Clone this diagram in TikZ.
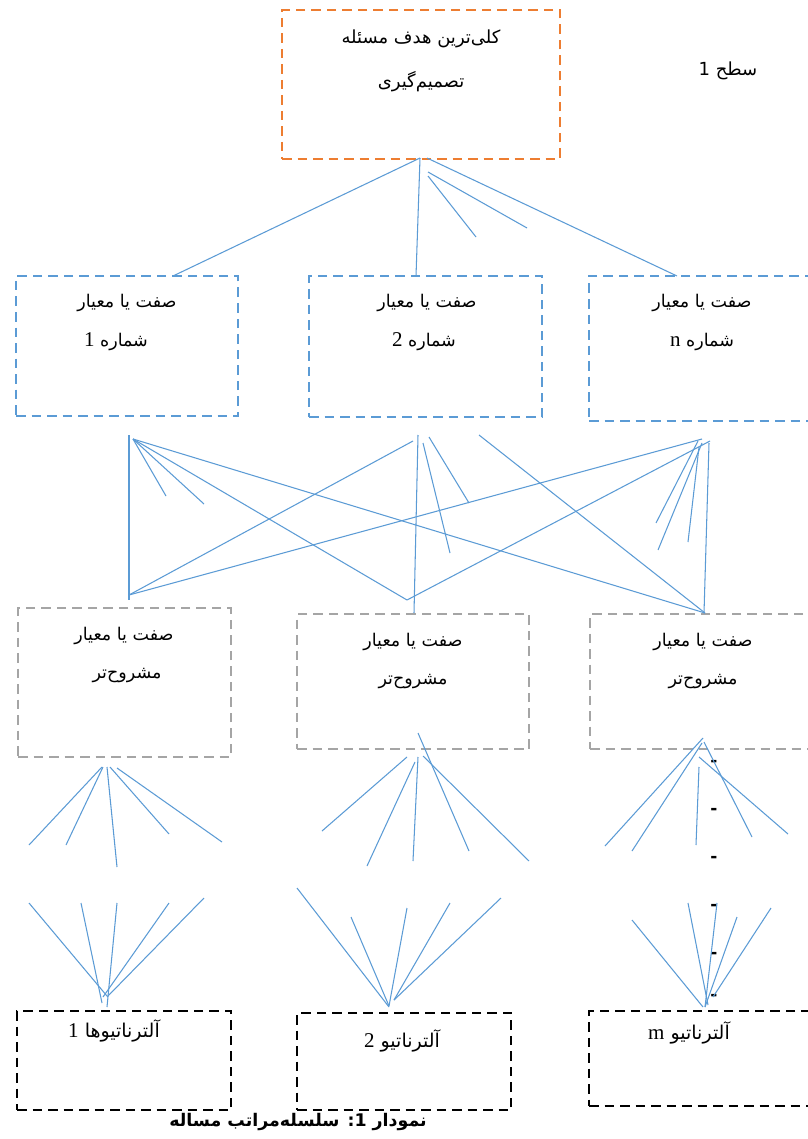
\documentclass[tikz,border=0pt]{standalone}
\usepackage{fontspec}
\newfontfamily\fa[Script=Arabic]{DejaVu Sans}
\newfontfamily\fabold[Script=Arabic]{DejaVu Sans Bold}
\newfontfamily\lat{Liberation Serif}
\newcommand\latnum[1]{{\lat\fontsize{21}{22}\selectfont #1}}
\TeXXeTstate=1

\definecolor{orng}{HTML}{ED7D31}
\definecolor{blu}{HTML}{5B9BD5}
\definecolor{gry}{HTML}{A5A5A5}

\tikzset{
  frame/.style={draw, line width=2.8pt, dash pattern=on 9.5pt off 6pt, inner sep=0pt},
  goalbox/.style={frame, draw=orng},
  critbox/.style={frame, draw=blu},
  subbox/.style={frame, draw=gry},
  altbox/.style={frame, draw=black},
  link/.style={draw=blu, line width=1.05pt},
  lbl/.style={font=\fa\fontsize{17.5}{20}\selectfont, inner sep=0pt},
  toplbl/.style={font=\fa\fontsize{18}{21}\selectfont, inner sep=0pt},
  altlbl/.style={font=\fa\fontsize{19}{22}\selectfont, inner sep=0pt},
  captxt/.style={font=\fabold\fontsize{17.4}{20}\selectfont, inner sep=0pt},
  sidedash/.style={font=\fabold\fontsize{17}{20}\selectfont, inner sep=0pt},
}

\begin{document}
\begin{tikzpicture}[x=1pt,y=-1pt]
\useasboundingbox (0,0) rectangle (807,1139);
\fill[white] (0,0) rectangle (807,1139);

% ---- boxes ----
\node[goalbox, minimum width=278pt, minimum height=149pt] (goal) at (421,84.5) {};
\node[critbox, minimum width=222pt, minimum height=140pt] (c1) at (127,346) {};
\node[critbox, minimum width=233pt, minimum height=141pt] (c2) at (425.5,346.5) {};
\node[critbox, minimum width=226pt, minimum height=145pt] (cn) at (702,348.5) {};
\node[subbox, minimum width=213pt, minimum height=149pt] (s1) at (124.5,682.5) {};
\node[subbox, minimum width=232pt, minimum height=135pt] (s2) at (413,681.5) {};
\node[subbox, minimum width=225pt, minimum height=135pt] (s3) at (702.5,681.5) {};
\node[altbox, minimum width=214pt, minimum height=99pt] (a1) at (124,1060.5) {};
\node[altbox, minimum width=214pt, minimum height=97pt] (a2) at (404,1061.5) {};
\node[altbox, minimum width=226pt, minimum height=95pt] (a3) at (702,1058.5) {};

% ---- labels ----
\node[toplbl] (goal-t1) at (421,39) {\beginR کلی^^^^200cترین هدف مسئله\endR};
\node[toplbl] (goal-t2) at (421,82) {\beginR تصمیم^^^^200cگیری\endR};
\node[toplbl] (level1) at (728,71) {\beginR سطح 1\endR};

\node[lbl] (c1-t1) at (127,303) {\beginR صفت یا معیار\endR};
\node[lbl] (c1-t2) at (116,342) {\beginR شماره \latnum{1}\endR};
\node[lbl] (c2-t1) at (427,303) {\beginR صفت یا معیار\endR};
\node[lbl] (c2-t2) at (424,342) {\beginR شماره \latnum{2}\endR};
\node[lbl] (cn-t1) at (702,303) {\beginR صفت یا معیار\endR};
\node[lbl] (cn-t2) at (702,342) {\beginR شماره \latnum{n}\endR};

\node[lbl] (s1-t1) at (124,636) {\beginR صفت یا معیار\endR};
\node[lbl] (s1-t2) at (127,676) {\beginR مشروح^^^^200cتر\endR};
\node[lbl] (s2-t1) at (413,642) {\beginR صفت یا معیار\endR};
\node[lbl] (s2-t2) at (413,682) {\beginR مشروح^^^^200cتر\endR};
\node[lbl] (s3-t1) at (703,642) {\beginR صفت یا معیار\endR};
\node[lbl] (s3-t2) at (703,682) {\beginR مشروح^^^^200cتر\endR};

\node[altlbl] (a1-t) at (114,1031) {\beginR آلترناتیوها \latnum{1}\endR};
\node[altlbl] (a2-t) at (402,1041) {\beginR آلترناتیو \latnum{2}\endR};
\node[altlbl] (a3-t) at (689,1033) {\beginR آلترناتیو \latnum{m}\endR};

\node[captxt] (caption) at (298,1122) {\beginR نمودار 1: سلسله^^^^200cمراتب مساله\endR};

% ---- column of dashes beside the right fans ----
\foreach \k/\yy in {1/763,2/811,3/859,4/907,5/955,6/997}
  \node[sidedash] (dash\k) at (714,\yy) {-};

% ---- connectors: name both ends, then join them ----
\foreach \n/\xa/\ya/\xb/\yb in {
  g1/420/158/173/276, g2/420/158/416/276, g3/427/158/677/276,
  g4/428/172/527/228, g5/428/176/476/237,
  m1/129/435/129/600, m2/133/439/166/496, m3/133/439/204/504,
  m4/133/439/407/600, m5/133/439/705/613, m6/129/595/413/441,
  m7/129/595/702/439, m8/407/600/710/441, m9/418/435/414/613,
  m10/423/443/450/553, m11/429/437/469/503, m12/479/435/705/613,
  m13/698/441/656/523, m14/702/443/658/550, m15/699/447/688/542,
  m16/709/443/704/613,
  p1/102/767/29/845, p2/103/767/66/845, p3/107/767/117/867,
  p4/110/767/169/834, p5/117/768/222/842,
  q1/29/903/107/996, q2/81/903/102/1003, q3/117/903/107/1007,
  q4/169/903/103/997, q5/204/898/107/997,
  r1/418/733/469/851, r2/407/757/322/831, r3/415/762/367/866,
  r4/418/757/413/861, r5/423/756/529/861,
  u1/297/888/389/1007, u2/351/917/389/1006, u3/407/908/389/1006,
  u4/450/903/394/1000, u5/501/898/394/1000,
  v1/703/738/605/846, v2/702/743/632/851, v3/699/767/696/845,
  v4/704/742/752/837, v5/699/757/788/834,
  w1/632/920/703/1007, w2/688/903/708/1005, w3/717/903/705/1007,
  w4/737/917/705/1007, w5/771/908/713/997}
{
  \coordinate (\n-s) at (\xa,\ya);
  \coordinate (\n-e) at (\xb,\yb);
  \draw[link] (\n-s) -- (\n-e);
}
\end{tikzpicture}
\end{document}
